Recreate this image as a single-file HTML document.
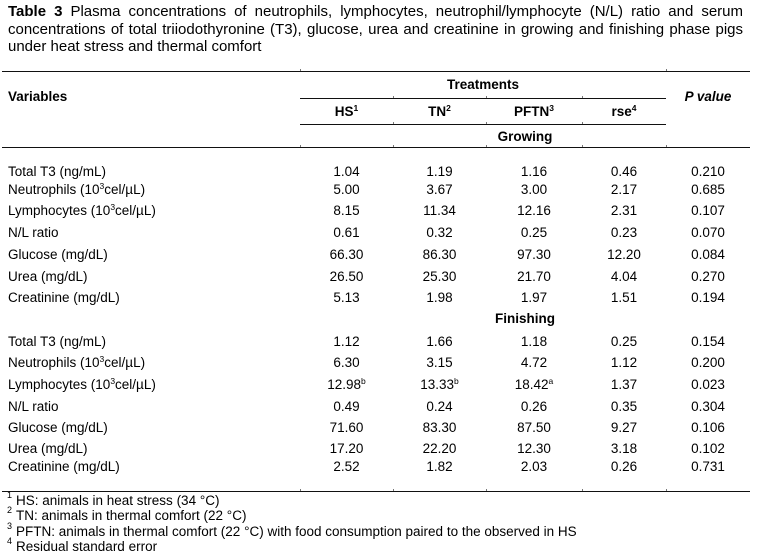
<!DOCTYPE html>
<html>
<head>
<meta charset="utf-8">
<style>
html,body{margin:0;padding:0;}
body{width:763px;height:559px;background:#fff;position:relative;overflow:hidden;font-family:"Liberation Sans",Arial,sans-serif;color:#000;}
.t{position:absolute;left:8px;width:735px;font-size:15px;line-height:17.5px;text-align:justify;text-align-last:justify;}
.t3{text-align:left;text-align-last:left;}
.h{position:absolute;height:1px;background:#111;}
.k{position:absolute;width:1px;height:2px;background:#777;}
.r{position:absolute;left:0;width:763px;height:16px;font-size:13.5px;line-height:16px;white-space:nowrap;}
.r span{position:absolute;top:0;text-align:center;}
.r .c0{left:8px;text-align:left;}
.c1{left:300px;width:93px;}
.c2{left:393px;width:93px;}
.c3{left:486px;width:96px;}
.c4{left:582px;width:84px;}
.c5{left:666px;width:84px;}
.b{font-weight:bold;}
sup{font-size:8.5px;line-height:0;vertical-align:5px;}
.fn{position:absolute;left:16px;font-size:13.5px;line-height:16px;white-space:nowrap;}
.fs{position:absolute;left:7px;font-size:9px;line-height:10px;}
</style>
</head>
<body>

<div class="t" style="top:3px;"><b>Table 3</b> Plasma concentrations of neutrophils, lymphocytes, neutrophil/lymphocyte (N/L) ratio and serum</div>
<div class="t" style="top:20.5px;">concentrations of total triiodothyronine (T3), glucose, urea and creatinine in growing and finishing phase pigs</div>
<div class="t t3" style="top:38px;">under heat stress and thermal comfort</div>

<!-- lines -->
<div class="h" style="top:71px;left:2px;width:748px;"></div>
<div class="h" style="top:98px;left:300px;width:366px;"></div>
<div class="h" style="top:124px;left:300px;width:366px;"></div>
<div class="h" style="top:147px;left:2px;width:748px;"></div>
<div class="h" style="top:491px;left:2px;width:748px;"></div>

<!-- ticks -->
<div class="k" style="top:69px;left:300px;"></div>
<div class="k" style="top:69px;left:666px;"></div>
<div class="k" style="top:96px;left:393px;"></div>
<div class="k" style="top:96px;left:486px;"></div>
<div class="k" style="top:96px;left:582px;"></div>
<div class="k" style="top:122px;left:393px;"></div>
<div class="k" style="top:122px;left:486px;"></div>
<div class="k" style="top:122px;left:582px;"></div>
<div class="k" style="top:145px;left:300px;"></div>
<div class="k" style="top:145px;left:393px;"></div>
<div class="k" style="top:145px;left:486px;"></div>
<div class="k" style="top:145px;left:582px;"></div>
<div class="k" style="top:145px;left:666px;"></div>
<div class="k" style="top:489px;left:300px;"></div>
<div class="k" style="top:489px;left:393px;"></div>
<div class="k" style="top:489px;left:486px;"></div>
<div class="k" style="top:489px;left:582px;"></div>
<div class="k" style="top:489px;left:666px;"></div>

<!-- header -->
<div class="r b" style="top:77px;"><span style="left:300px;width:366px;">Treatments</span></div>
<div class="r b" style="top:89px;"><span class="c0">Variables</span><span class="c5"><i>P value</i></span></div>
<div class="r b" style="top:104px;"><span class="c1">HS<sup>1</sup></span><span class="c2">TN<sup>2</sup></span><span class="c3">PFTN<sup>3</sup></span><span class="c4">rse<sup>4</sup></span></div>
<div class="r b" style="top:129px;"><span style="left:470px;width:110px;">Growing</span></div>

<!-- growing -->
<div class="r" style="top:164px;"><span class="c0">Total T3 (ng/mL)</span><span class="c1">1.04</span><span class="c2">1.19</span><span class="c3">1.16</span><span class="c4">0.46</span><span class="c5">0.210</span></div>
<div class="r" style="top:181.5px;"><span class="c0">Neutrophils (10<sup>3</sup>cel/µL)</span><span class="c1">5.00</span><span class="c2">3.67</span><span class="c3">3.00</span><span class="c4">2.17</span><span class="c5">0.685</span></div>
<div class="r" style="top:203px;"><span class="c0">Lymphocytes (10<sup>3</sup>cel/µL)</span><span class="c1">8.15</span><span class="c2">11.34</span><span class="c3">12.16</span><span class="c4">2.31</span><span class="c5">0.107</span></div>
<div class="r" style="top:224.5px;"><span class="c0">N/L ratio</span><span class="c1">0.61</span><span class="c2">0.32</span><span class="c3">0.25</span><span class="c4">0.23</span><span class="c5">0.070</span></div>
<div class="r" style="top:246.5px;"><span class="c0">Glucose (mg/dL)</span><span class="c1">66.30</span><span class="c2">86.30</span><span class="c3">97.30</span><span class="c4">12.20</span><span class="c5">0.084</span></div>
<div class="r" style="top:269px;"><span class="c0">Urea (mg/dL)</span><span class="c1">26.50</span><span class="c2">25.30</span><span class="c3">21.70</span><span class="c4">4.04</span><span class="c5">0.270</span></div>
<div class="r" style="top:290px;"><span class="c0">Creatinine (mg/dL)</span><span class="c1">5.13</span><span class="c2">1.98</span><span class="c3">1.97</span><span class="c4">1.51</span><span class="c5">0.194</span></div>

<div class="r b" style="top:311px;"><span style="left:470px;width:110px;">Finishing</span></div>

<!-- finishing -->
<div class="r" style="top:334px;"><span class="c0">Total T3 (ng/mL)</span><span class="c1">1.12</span><span class="c2">1.66</span><span class="c3">1.18</span><span class="c4">0.25</span><span class="c5">0.154</span></div>
<div class="r" style="top:355px;"><span class="c0">Neutrophils (10<sup>3</sup>cel/µL)</span><span class="c1">6.30</span><span class="c2">3.15</span><span class="c3">4.72</span><span class="c4">1.12</span><span class="c5">0.200</span></div>
<div class="r" style="top:377px;"><span class="c0">Lymphocytes (10<sup>3</sup>cel/µL)</span><span class="c1">12.98<sup>b</sup></span><span class="c2">13.33<sup>b</sup></span><span class="c3">18.42<sup>a</sup></span><span class="c4">1.37</span><span class="c5">0.023</span></div>
<div class="r" style="top:399px;"><span class="c0">N/L ratio</span><span class="c1">0.49</span><span class="c2">0.24</span><span class="c3">0.26</span><span class="c4">0.35</span><span class="c5">0.304</span></div>
<div class="r" style="top:419.5px;"><span class="c0">Glucose (mg/dL)</span><span class="c1">71.60</span><span class="c2">83.30</span><span class="c3">87.50</span><span class="c4">9.27</span><span class="c5">0.106</span></div>
<div class="r" style="top:441px;"><span class="c0">Urea (mg/dL)</span><span class="c1">17.20</span><span class="c2">22.20</span><span class="c3">12.30</span><span class="c4">3.18</span><span class="c5">0.102</span></div>
<div class="r" style="top:459px;"><span class="c0">Creatinine (mg/dL)</span><span class="c1">2.52</span><span class="c2">1.82</span><span class="c3">2.03</span><span class="c4">0.26</span><span class="c5">0.731</span></div>

<!-- footnotes -->
<div class="fs" style="top:490px;">1</div>
<div class="fn" style="top:492.5px;">HS: animals in heat stress (34 °C)</div>
<div class="fs" style="top:505px;">2</div>
<div class="fn" style="top:508px;">TN: animals in thermal comfort (22 °C)</div>
<div class="fs" style="top:520.5px;">3</div>
<div class="fn" style="top:523.5px;">PFTN: animals in thermal comfort (22 °C) with food consumption paired to the observed in HS</div>
<div class="fs" style="top:535.5px;">4</div>
<div class="fn" style="top:538.5px;">Residual standard error</div>

</body>
</html>
